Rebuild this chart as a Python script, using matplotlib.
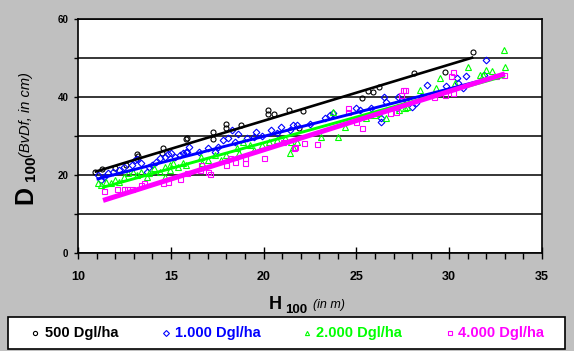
import matplotlib
matplotlib.use("Agg")
import matplotlib.pyplot as plt
from matplotlib.ticker import MultipleLocator
from matplotlib.lines import Line2D
from matplotlib.patches import Rectangle
import numpy as np

plt.rcParams['font.family'] = ['Liberation Sans', 'DejaVu Sans']

# ---------------- data ----------------
labels = ["500 Dgl/ha", "1.000 Dgl/ha", "2.000 Dgl/ha", "4.000 Dgl/ha"]
colors = ["#000000", "#0000FF", "#00FF00", "#FF00FF"]
markers = ["o", "D", "^", "s"]

h_500 = [10.9, 11.3, 12.0, 12.6, 13.2, 13.25, 14.5, 14.6, 15.8, 15.85, 17.3, 17.3,
         18.0, 18.0, 18.8, 20.25, 20.25, 20.55, 21.35, 21.9, 22.1, 25.3, 25.6,
         25.9, 26.2, 28.1, 29.8, 31.3]
d_500 = [20.8, 21.5, 21.9, 22.6, 25.3, 24.9, 25.7, 26.9, 29.2, 29.6, 31.1, 29.2,
         33.0, 32.0, 32.8, 36.7, 35.6, 35.6, 36.7, 32.0, 36.5, 39.7, 41.6,
         41.4, 42.6, 46.1, 46.5, 51.6]

h_1000 = [11.1, 11.25, 11.4, 11.6, 11.9, 12.2, 12.5, 12.9, 13.05, 13.2, 13.4, 13.7,
          13.85, 14.0, 14.2, 14.4, 14.7, 14.85, 15.0, 15.2, 15.5, 15.65, 15.8,
          15.85, 16.0, 16.5, 17.0, 17.4, 17.55, 17.8, 18.1, 18.3, 18.45, 18.6,
          19.1, 19.5, 19.6, 19.9, 20.4, 20.7, 20.95, 21.4, 21.6, 21.8, 22.5,
          23.3, 23.6, 23.75, 25.0, 25.2, 25.8, 26.3, 26.35, 26.5, 26.6, 27.2,
          27.25, 27.7, 28.0, 28.2, 28.5, 28.8, 29.85, 30.4, 30.5, 30.75, 30.9,
          31.9, 32.0]
d_1000 = [20.0, 18.7, 19.6, 20.4, 20.8, 21.4, 22.1, 22.6, 23.8, 24.0, 23.2, 20.8,
          22.0, 22.6, 23.4, 24.3, 24.7, 25.4, 25.6, 24.7, 25.1, 25.6, 26.0,
          26.0, 27.3, 26.0, 26.8, 26.0, 27.3, 29.0, 29.4, 31.5, 28.5, 30.4,
          29.4, 29.8, 31.1, 30.1, 31.5, 30.7, 32.4, 31.5, 32.8, 32.8, 33.2,
          34.5, 35.4, 35.8, 37.1, 36.7, 37.1, 34.5, 33.7, 40.1, 38.8, 37.1,
          40.1, 38.8, 37.5, 38.4, 40.1, 43.1, 42.7, 44.8, 43.6, 42.2, 45.3,
          45.6, 49.5]

h_2000 = [11.1, 11.25, 11.5, 11.8, 12.0, 12.2, 12.5, 12.7, 12.95, 13.2, 13.4, 13.7,
          13.85, 14.1, 14.4, 14.7, 14.7, 14.95, 14.95, 15.1, 15.4, 15.65, 15.8,
          16.65, 16.7, 17.0, 17.4, 17.7, 18.0, 18.55, 18.7, 18.9, 19.25, 19.5,
          19.9, 20.3, 20.7, 21.15, 21.4, 21.5, 21.6, 21.8, 23.1, 23.75, 24.0,
          24.4, 25.5, 25.7, 26.0, 26.15, 26.6, 27.3, 27.6, 27.7, 28.4, 29.3,
          29.5, 30.3, 31.0, 31.65, 31.8, 32.0, 32.3, 32.95, 33.0]
d_2000 = [17.9, 17.4, 18.3, 17.9, 18.7, 18.3, 19.6, 20.4, 20.8, 20.0, 20.8, 19.6,
          20.4, 21.7, 20.8, 22.1, 19.6, 22.6, 21.3, 23.0, 22.1, 23.0, 22.6,
          24.7, 23.0, 23.8, 25.1, 23.8, 25.1, 26.8, 25.6, 28.5, 27.7, 26.4,
          27.7, 28.5, 29.0, 29.4, 25.6, 28.5, 27.3, 28.5, 29.8, 36.2, 29.8,
          32.4, 34.5, 35.4, 35.4, 35.9, 34.5, 36.7, 37.1, 37.5, 41.8, 42.2,
          45.0, 43.5, 47.8, 45.6, 45.6, 46.9, 46.7, 52.1, 47.8]

h_4000 = [11.4, 12.1, 12.5, 12.65, 12.9, 13.4, 13.55, 14.6, 14.85, 15.5, 15.85,
          16.6, 16.65, 17.0, 17.1, 18.0, 18.2, 18.45, 19.0, 19.0, 20.0, 21.05,
          21.65, 21.7, 22.15, 22.9, 24.55, 24.55, 25.0, 25.3, 26.8, 27.15,
          27.4, 27.5, 27.6, 29.2, 29.75, 30.1, 30.2, 30.2, 32.5, 32.95]
d_4000 = [16.0, 16.3, 16.3, 16.3, 16.3, 17.4, 17.9, 17.9, 18.3, 19.0, 20.4,
          21.3, 22.6, 20.8, 20.2, 22.6, 24.3, 23.4, 23.0, 24.3, 24.3, 28.5,
          27.0, 27.3, 28.1, 27.9, 37.1, 36.2, 33.7, 32.1, 35.8, 36.2,
          40.5, 41.8, 41.8, 40.1, 40.5, 45.3, 46.5, 41.1, 45.3, 45.6]

# fitted regression lines: D = intercept + slope * H over [h_start, h_end]
fit_intercept = [5.1, 5.5, 1.9, -3.55]
fit_slope = [1.44, 1.22, 1.318, 1.50]
fit_h_start = [10.9, 11.0, 11.3, 11.35]
fit_h_end = [31.3, 33.0, 33.0, 33.0]

xs = [h_500, h_1000, h_2000, h_4000]
ys = [d_500, d_1000, d_2000, d_4000]

# ---------------- figure ----------------
W, H = 574, 351
fig = plt.figure(figsize=(W / 100, H / 100), dpi=100)
fig.patch.set_facecolor("#C0C0C0")

ax = fig.add_axes([78 / W, 1 - 253 / H, 464 / W, 234 / H])
ax.set_facecolor("white")

msizes = [3.6, 3.4, 3.8, 3.6]
for x, y, c, m, ms in zip(xs, ys, colors, markers, msizes):
    ax.plot(x, y, linestyle="none", marker=m, markersize=ms, markerfacecolor="none",
            markeredgecolor=c, markeredgewidth=0.8, zorder=3)

lws = [1.9, 2.1, 2.1, 3.6]
for b0, b1, h0, h1, c, lw in zip(fit_intercept, fit_slope, fit_h_start, fit_h_end, colors, lws):
    hh = np.array([h0, h1])
    ax.plot(hh, b0 + b1 * hh, color=c, linewidth=lw, solid_capstyle="butt", zorder=4)

ax.set_xlim(10, 35)
ax.set_ylim(0, 60)
ax.xaxis.set_major_locator(MultipleLocator(5))
ax.xaxis.set_minor_locator(MultipleLocator(1))
ax.yaxis.set_major_locator(MultipleLocator(20))
ax.yaxis.set_minor_locator(MultipleLocator(10))
ax.grid(True, which="both", axis="y", color="black", linewidth=1.1, zorder=1)
ax.set_axisbelow(True)

ax.tick_params(axis="x", which="major", direction="inout", length=8, width=1,
               pad=9, labelsize=9)
ax.tick_params(axis="x", which="minor", direction="out", length=4, width=1)
ax.tick_params(axis="y", which="both", direction="out", length=3, width=1,
               pad=4, labelsize=7)
for lab in ax.get_xticklabels() + ax.get_yticklabels():
    lab.set_fontweight("bold")
for sp in ax.spines.values():
    sp.set_linewidth(1.2)
    sp.set_color("black")

# ---------------- axis titles (pixel placement) ----------------
def fx(px):
    return px / W

def fy(py):
    return 1 - py / H

fig.text(fx(269), fy(309), "H", fontsize=13, fontweight="bold", ha="left", va="baseline")
fig.text(fx(285), fy(313), "100", fontsize=9.5, fontweight="bold", ha="left", va="baseline")
fig.text(fx(313), fy(308), "(in m)", fontsize=9, style="italic", ha="left", va="baseline")

fig.text(fx(32), fy(204), "D", fontsize=18, fontweight="bold", rotation=90,
         rotation_mode="anchor", ha="left", va="baseline")
fig.text(fx(35), fy(181), "100", fontsize=11, fontweight="bold", rotation=90,
         rotation_mode="anchor", ha="left", va="baseline")
fig.text(fx(30), fy(157), "(BvDf, in cm)", fontsize=10.5, style="italic", rotation=90,
         rotation_mode="anchor", ha="left", va="baseline")

# ---------------- legend (manual) ----------------
fig.add_artist(Rectangle((fx(8), fy(349)), (565 - 8) / W, (349 - 317) / H,
                         transform=fig.transFigure, facecolor="white",
                         edgecolor="black", linewidth=1.2))
marker_px = [35, 166, 307, 450]
text_px = [45, 175, 316, 458]
for lab, c, m, mx, tx in zip(labels, colors, markers, marker_px, text_px):
    fig.add_artist(Line2D([fx(mx)], [fy(333)], transform=fig.transFigure,
                          linestyle="none", marker=m, markersize=3,
                          markerfacecolor="none", markeredgecolor=c,
                          markeredgewidth=0.8))
    fig.text(fx(tx), fy(333), lab, color=c, fontsize=10.5, fontweight="bold",
             ha="left", va="center")

fig.savefig("out.png", dpi=100, facecolor=fig.get_facecolor())
